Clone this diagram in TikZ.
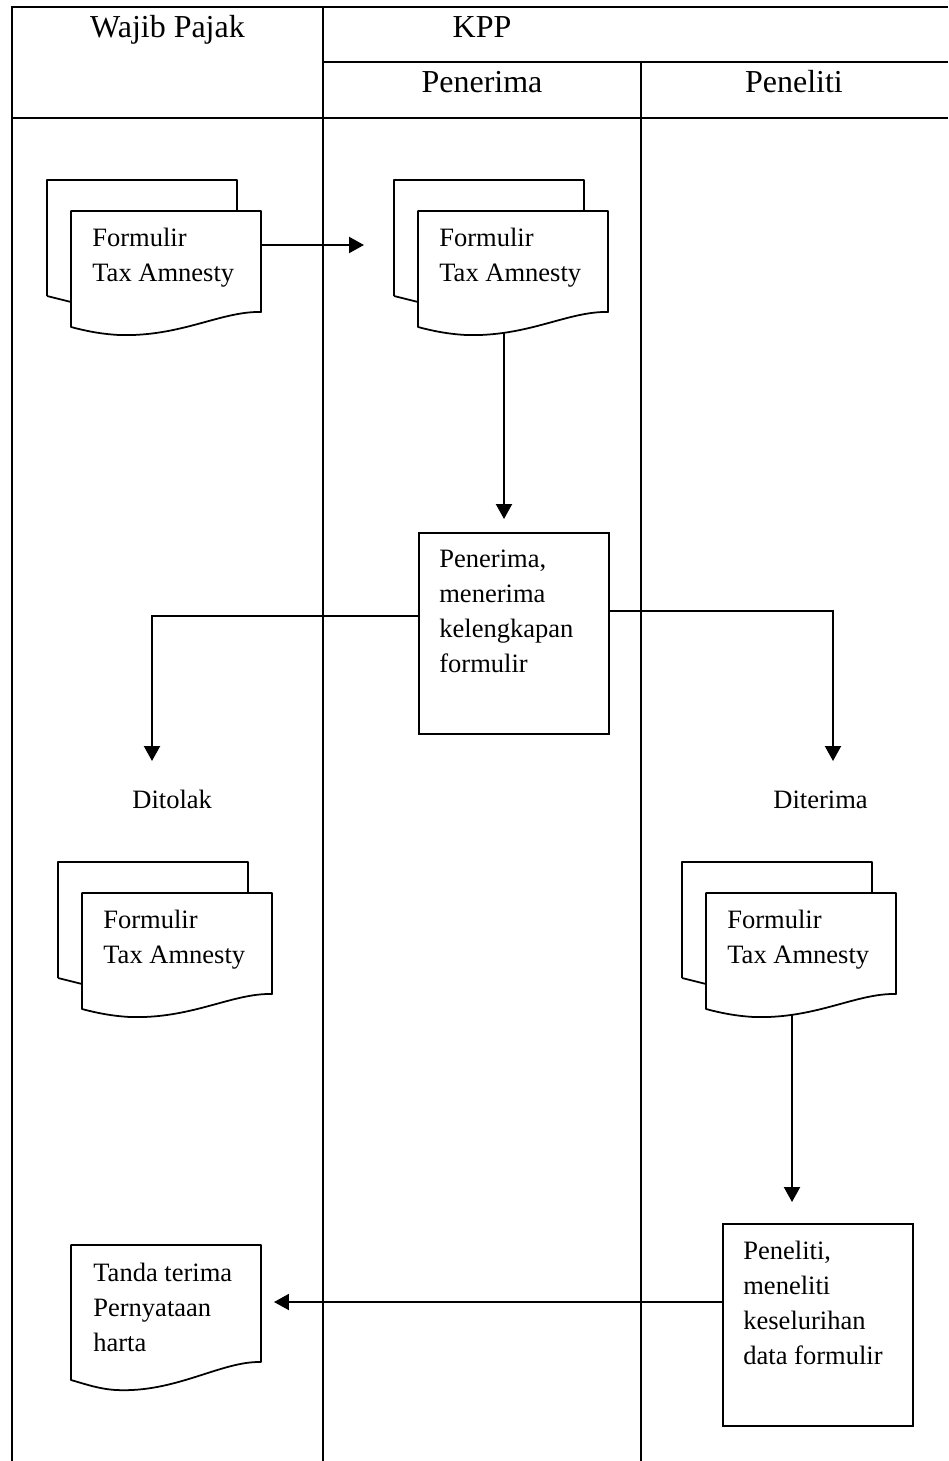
\documentclass[tikz,border=0pt]{standalone}
\usepackage{fontspec}
\setmainfont{Liberation Serif}
\usepackage{tikz}
\usetikzlibrary{calc, arrows.meta}

\tikzset{
    garis/.style={line width=1.5pt},
    lembar/.style={line width=1pt, line join=round},
    proses/.style={draw, line width=1.1pt, rectangle, minimum width=3.8cm, minimum height=4.02cm, anchor=north west},
    teks/.style={font=\fontsize{15.1}{19.9}\selectfont, align=left, inner sep=0pt, anchor=north west},
    judul/.style={font=\fontsize{18.2}{22}\selectfont, inner sep=0pt, anchor=base},
    panah/.style={line width=1.2pt, -{Triangle[length=0.3cm,width=0.32cm]}}
}

% dokumen ganda: #1,#2 = pojok kiri atas lembar depan, #3 = nama, #4 = isi
\newcommand{\dokganda}[4]{
    \draw[lembar] ({#1-24},{#2+85}) -- ({#1-24},{#2-31}) -- ({#1+166},{#2-31}) -- ({#1+166},{#2});
    \draw[lembar] ({#1-24},{#2+85}) -- ({#1},{#2+91});
    \draw[lembar] (#1,#2) -- ({#1+190},#2) -- ({#1+190},{#2+101})
        .. controls ({#1+150},{#2+100}) and ({#1+110},{#2+126}) .. ({#1+48},{#2+124})
        .. controls ({#1+30},{#2+123}) and ({#1+15},{#2+120}) .. ({#1},{#2+116}) -- cycle;
    \node[teks] (#3-teks) at ({#1+21},{#2+17}) {#4};
    \coordinate (#3-e) at ({#1+190},{#2+34});
    \coordinate (#3-s) at ({#1+86},{#2+121});
}

% dokumen tunggal
\newcommand{\doktunggal}[4]{
    \draw[lembar] (#1,#2) -- ({#1+190},#2) -- ({#1+190},{#2+117})
        .. controls ({#1+150},{#2+116}) and ({#1+105},{#2+148}) .. ({#1+45},{#2+145})
        .. controls ({#1+28},{#2+144}) and ({#1+14},{#2+139}) .. ({#1},{#2+135}) -- cycle;
    \node[teks] (#3-teks) at ({#1+22},{#2+18}) {#4};
    \coordinate (#3-e) at ({#1+190},{#2+57});
}

\begin{document}
\begin{tikzpicture}[x=0.02cm, y=-0.02cm]
    \useasboundingbox (0,0) rectangle (948,1461);

    % tabel
    \draw[garis] (12,1461) -- (12,7) -- (948,7);
    \draw[garis] (323,62) -- (948,62);
    \draw[garis] (12,118) -- (948,118);
    \foreach \x/\y in {323/7, 641/62}
        \draw[garis] (\x,\y) -- (\x,1461);

    \node[judul] (wp) at (167.5,37) {Wajib Pajak};
    \node[judul] (kpp) at (482,37) {KPP};
    \node[judul] (penerima) at (482,92) {Penerima};
    \node[judul] (peneliti) at (794,92) {Peneliti};

    % dokumen
    \dokganda{71}{211}{dok1}{Formulir\\Tax Amnesty}
    \dokganda{418}{211}{dok2}{Formulir\\Tax Amnesty}
    \dokganda{82}{893}{dok3}{Formulir\\Tax Amnesty}
    \dokganda{706}{893}{dok4}{Formulir\\Tax Amnesty}
    \doktunggal{71}{1245}{tanda}{Tanda terima\\Pernyataan\\harta}

    % proses
    \node[proses] (terima) at (418,532) {};
    \node[teks] (terima-teks) at (439,550) {Penerima,\\menerima\\kelengkapan\\formulir};
    \node[proses, minimum height=4.04cm] (teliti) at (722,1223) {};
    \node[teks] (teliti-teks) at (743,1241) {Peneliti,\\meneliti\\keselurihan\\data formulir};

    \node[teks, anchor=base west] (ditolak) at (132,808) {Ditolak};
    \node[teks, anchor=base west] (diterima) at (773,808) {Diterima};

    \coordinate (kpp-masuk) at (364,245);
    \coordinate (tolak-ujung) at (152,761);
    \coordinate (terima-ujung) at (833,761);

    % alur
    \draw[panah] (dok1-e) -- (kpp-masuk);
    \draw[panah, shorten >=0.26cm] (dok2-s) -- (dok2-s |- terima.north);
    \draw[panah] ($(terima.north west)+(0,84)$) -| (tolak-ujung);
    \draw[panah] ($(terima.north east)+(0,79)$) -| (terima-ujung);
    \draw[panah, shorten >=0.42cm] (dok4-s) -- (dok4-s |- teliti.north);
    \draw[panah, shorten >=0.26cm] ($(teliti.north west)+(0,79)$) -- (tanda-e);
\end{tikzpicture}
\end{document}
